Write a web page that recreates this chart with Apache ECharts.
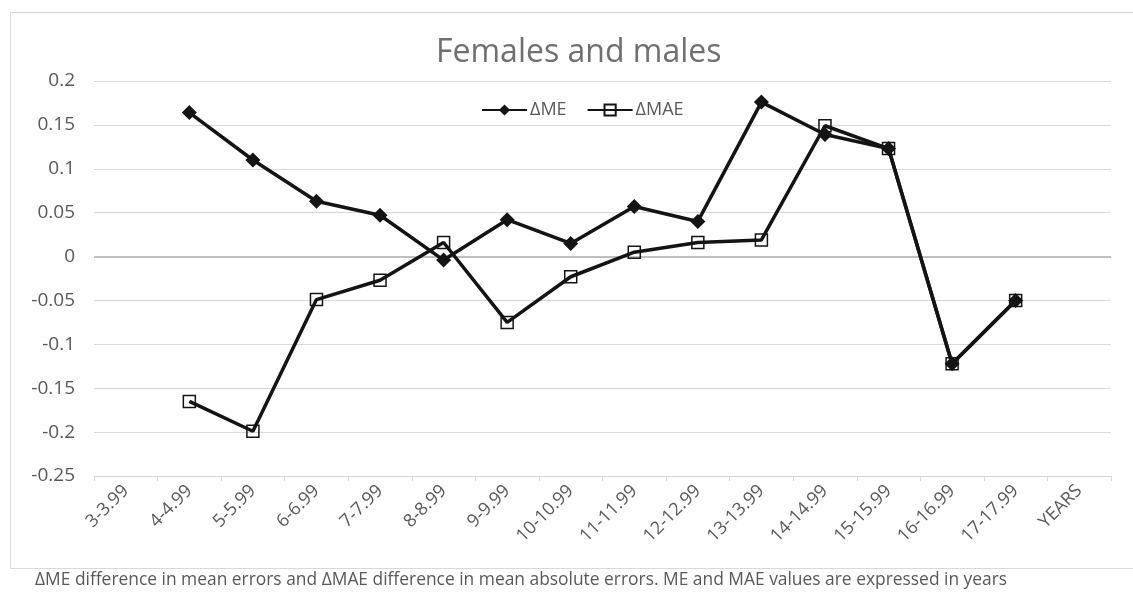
<!DOCTYPE html>
<html>
<head>
<meta charset="utf-8">
<script src="https://cdn.jsdelivr.net/npm/echarts@6/dist/echarts.min.js"></script>
<style>
html,body{margin:0;padding:0;background:#fff;}
#chart{width:1133px;height:596px;}
</style>
</head>
<body>
<div id="chart"></div>
<script>
const categories = ['3-3.99','4-4.99','5-5.99','6-6.99','7-7.99','8-8.99','9-9.99','10-10.99','11-11.99','12-12.99','13-13.99','14-14.99','15-15.99','16-16.99','17-17.99','YEARS'];
const deltaME  = [null, 0.164, 0.110, 0.063, 0.047, -0.004, 0.042, 0.015, 0.057, 0.040, 0.176, 0.139, 0.123, -0.122, -0.050, null];
const deltaMAE = [null, -0.165, -0.199, -0.049, -0.027, 0.016, -0.075, -0.023, 0.005, 0.016, 0.019, 0.149, 0.123, -0.122, -0.050, null];
const titleText = 'Females and males';
const captionText = 'ΔME difference in mean errors and ΔMAE difference in mean absolute errors. ME and MAE values are expressed in years';

const FONT = '"Open Sans", "DejaVu Sans", sans-serif';
const chart = echarts.init(document.getElementById('chart'), null, {renderer: 'canvas'});
chart.setOption({
  animation: false,
  backgroundColor: '#fff',
  textStyle: {fontFamily: FONT},
  title: {
    text: titleText,
    left: 431,
    top: 32,
    textStyle: {fontFamily: FONT, fontSize: 32, fontWeight: 'normal', color: '#707070'}
  },
  legend: {
    top: 96,
    left: 476,
    itemWidth: 45,
    itemHeight: 14,
    itemGap: 20,
    textStyle: {fontFamily: FONT, fontSize: 18, color: '#595959', padding: [0, 0, 0, -2]},
    data: ['ΔME', 'ΔMAE']
  },
  grid: {left: 94, right: 22, top: 81, bottom: 120},
  xAxis: {
    type: 'category',
    data: categories,
    boundaryGap: true,
    axisLine: {onZero: false, lineStyle: {color: '#d9d9d9', width: 1}},
    axisTick: {show: true, length: 5, lineStyle: {color: '#d9d9d9'}},
    axisLabel: {rotate: 45, interval: 0, fontFamily: FONT, fontSize: 18, color: '#595959', margin: 12},
    splitLine: {show: false}
  },
  yAxis: {
    type: 'value',
    min: -0.25,
    max: 0.2,
    interval: 0.05,
    axisLine: {show: false},
    axisTick: {show: false},
    axisLabel: {
      fontFamily: FONT, fontSize: 19, color: '#595959', margin: 19,
      formatter: v => String(+v.toFixed(2))
    },
    splitLine: {lineStyle: {color: '#d9d9d9', width: 1}}
  },
  graphic: [
    {type: 'rect', left: 8, top: 10, silent: true, z: -10,
     shape: {width: 1140, height: 556},
     style: {fill: 'none', stroke: '#d9d9d9', lineWidth: 1}},
    {type: 'text', left: 35, top: 572, silent: true,
     style: {text: captionText, fill: '#595959', font: '17.4px ' + FONT}}
  ],
  series: [
    {
      name: 'ΔMAE',
      type: 'line',
      data: deltaMAE,
      z: 3,
      symbol: 'rect',
      symbolSize: 12,
      showAllSymbol: true,
      connectNulls: false,
      lineStyle: {color: '#141414', width: 3.5},
      itemStyle: {color: 'rgba(255,255,255,0)', borderColor: '#141414', borderWidth: 1.5},
      markLine: {
        silent: true,
        symbol: 'none',
        label: {show: false},
        lineStyle: {color: '#bfbfbf', width: 2, type: 'solid'},
        data: [{yAxis: 0}],
        z: 1
      }
    },
    {
      name: 'ΔME',
      type: 'line',
      data: deltaME,
      z: 4,
      symbol: 'diamond',
      symbolSize: 15,
      showAllSymbol: true,
      lineStyle: {color: '#141414', width: 3.5},
      itemStyle: {color: '#141414', borderColor: '#141414', borderWidth: 0}
    }
  ]
});
</script>
</body>
</html>
